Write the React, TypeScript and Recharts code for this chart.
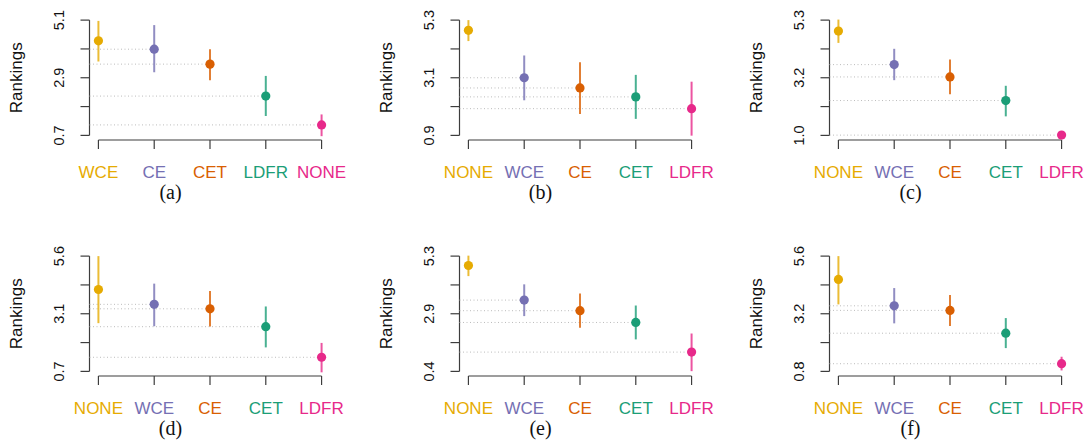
import { ScatterChart, Scatter, XAxis, YAxis, ErrorBar, ReferenceLine } from "recharts";

// Dark2 colours, assigned by position along the x axis
const palette = ["#E6AB02", "#7570B3", "#D95F02", "#1B9E77", "#E7298A"];

const captions = ["(a)", "(b)", "(c)", "(d)", "(e)", "(f)"];

const categories = [
  ["WCE", "CE", "CET", "LDFR", "NONE"],
  ["NONE", "WCE", "CE", "CET", "LDFR"],
  ["NONE", "WCE", "CE", "CET", "LDFR"],
  ["NONE", "WCE", "CE", "CET", "LDFR"],
  ["NONE", "WCE", "CE", "CET", "LDFR"],
  ["NONE", "WCE", "CE", "CET", "LDFR"],
];

const means = [
  [4.31, 3.99, 3.42, 2.2, 1.1],
  [4.91, 3.1, 2.71, 2.37, 1.92],
  [4.89, 3.64, 3.18, 2.3, 1.01],
  [4.18, 3.55, 3.36, 2.6, 1.3],
  [4.9, 3.43, 2.98, 2.48, 1.22],
  [4.63, 3.53, 3.34, 2.39, 1.12],
];

const lows = [
  [3.52, 3.11, 2.8, 1.44, 0.67],
  [4.5, 2.24, 1.72, 1.53, 0.89],
  [4.45, 3.06, 2.53, 1.71, 0.95],
  [2.75, 2.62, 2.61, 1.72, 0.66],
  [4.45, 2.75, 2.25, 1.76, 0.41],
  [3.59, 2.8, 2.69, 1.77, 0.84],
];

const highs = [
  [5.07, 4.91, 3.99, 2.97, 1.5],
  [5.3, 3.95, 3.69, 3.21, 2.95],
  [5.32, 4.23, 3.83, 2.85, 1.07],
  [5.6, 4.43, 4.12, 3.46, 1.91],
  [5.32, 4.1, 3.71, 3.2, 2.01],
  [5.6, 4.27, 3.98, 3.02, 1.41],
];

const yMin = [0.7, 0.9, 1.0, 0.7, 0.4, 0.8];
const yMax = [5.1, 5.3, 5.3, 5.6, 5.3, 5.6];

const yTickLabels = [
  ["0.7", "", "2.9", "", "5.1"],
  ["0.9", "", "3.1", "", "5.3"],
  ["1.0", "", "3.2", "", "5.3"],
  ["0.7", "", "3.1", "", "5.6"],
  ["0.4", "", "2.9", "", "5.3"],
  ["0.8", "", "3.2", "", "5.6"],
];

const PW = 370;
const PH = 236;
const AXIS = "#3d3d3d";
const SANS = "'Liberation Sans', Arial, sans-serif";

function Panel({ p }: { p: number }) {
  const cats = categories[p];
  const lo = yMin[p];
  const hi = yMax[p];
  const ext = (hi - lo) * 0.04;
  const yDomain = [lo - ext, hi + ext];
  const xLo = -0.16;
  const yTicks = [0, 1, 2, 3, 4].map((k) => lo + ((hi - lo) * k) / 4);

  return (
    <ScatterChart width={PW} height={PH} margin={{ top: 15.5, right: 39.5, bottom: 36, left: 0 }}>
      <XAxis
        dataKey="idx"
        type="number"
        domain={[xLo, 4.16]}
        allowDataOverflow
        ticks={[0, 1, 2, 3, 4]}
        interval={0}
        height={60}
        axisLine={false}
        tickSize={9}
        tickMargin={0}
        tickLine={{ stroke: AXIS, strokeWidth: 1.2 }}
        tick={(t: any) => (
          <text
            x={t.x}
            y={t.y + 23}
            dy="0.35em"
            textAnchor="middle"
            fontFamily={SANS}
            fontSize={17}
            fill={palette[t.index]}
          >
            {cats[t.index]}
          </text>
        )}
      />
      <YAxis
        dataKey="v"
        type="number"
        domain={yDomain}
        allowDataOverflow
        ticks={yTicks}
        interval={0}
        width={89.5}
        axisLine={false}
        tickSize={9}
        tickMargin={0}
        tickLine={{ stroke: AXIS, strokeWidth: 1.2 }}
        tick={(t: any) => {
          const cx = t.x - 21.5;
          return (
            <text
              x={cx}
              y={t.y}
              dy="0.35em"
              textAnchor="middle"
              transform={`rotate(-90, ${cx}, ${t.y})`}
              fontFamily={SANS}
              fontSize={14.5}
              fill="#111"
            >
              {yTickLabels[p][t.index]}
            </text>
          );
        }}
        label={{
          value: "Rankings",
          content: (l: any) => {
            const vb = l.viewBox || { x: 0, y: 15.5, height: 124.5 };
            const x = vb.x + 16.5;
            const y = vb.y + vb.height / 2;
            return (
              <text
                x={x}
                y={y}
                dy="0.35em"
                textAnchor="middle"
                transform={`rotate(-90, ${x}, ${y})`}
                fontFamily={SANS}
                fontSize={17}
                fill="#111"
              >
                Rankings
              </text>
            );
          },
        }}
      />
      <ReferenceLine
        segment={[{ x: 0, y: yDomain[0] }, { x: 4, y: yDomain[0] }]}
        stroke={AXIS}
        strokeWidth={1.2}
        ifOverflow="visible"
      />
      <ReferenceLine
        segment={[{ x: xLo, y: lo }, { x: xLo, y: hi }]}
        stroke={AXIS}
        strokeWidth={1.2}
        ifOverflow="visible"
      />
      {means[p].slice(1).map((m, k) => (
        <ReferenceLine
          key={"d" + k}
          segment={[{ x: xLo, y: m }, { x: k + 1, y: m }]}
          stroke="#bcbcbc"
          strokeWidth={1}
          strokeDasharray="1 2.5"
          ifOverflow="visible"
        />
      ))}
      {cats.map((c, i) => (
        <Scatter
          key={c}
          data={[{ idx: i, v: means[p][i], err: [means[p][i] - lows[p][i], highs[p][i] - means[p][i]] }]}
          dataKey="v"
          isAnimationActive={false}
          shape={(s: any) => <circle cx={s.cx} cy={s.cy} r={4.6} fill={palette[i]} />}
        >
          <ErrorBar
            dataKey="err"
            direction="y"
            width={0}
            stroke={palette[i]}
            strokeWidth={2}
            strokeOpacity={0.8}
            isAnimationActive={false}
          />
        </Scatter>
      ))}
    </ScatterChart>
  );
}

export default function App() {
  return (
    <div style={{ position: "absolute", left: 0, top: 0, width: 1089, height: 441, background: "#fff" }}>
      {captions.map((cap, p) => {
        const col = p % 3;
        const row = Math.floor(p / 3);
        return (
          <div key={cap} style={{ position: "absolute", left: col * PW, top: row * PH }}>
            <Panel p={p} />
            <div
              style={{
                position: "absolute",
                left: 0,
                width: 341,
                top: 182,
                lineHeight: "20px",
                textAlign: "center",
                fontFamily: "'Liberation Serif', serif",
                fontSize: 20,
                color: "#111",
              }}
            >
              {cap}
            </div>
          </div>
        );
      })}
    </div>
  );
}
